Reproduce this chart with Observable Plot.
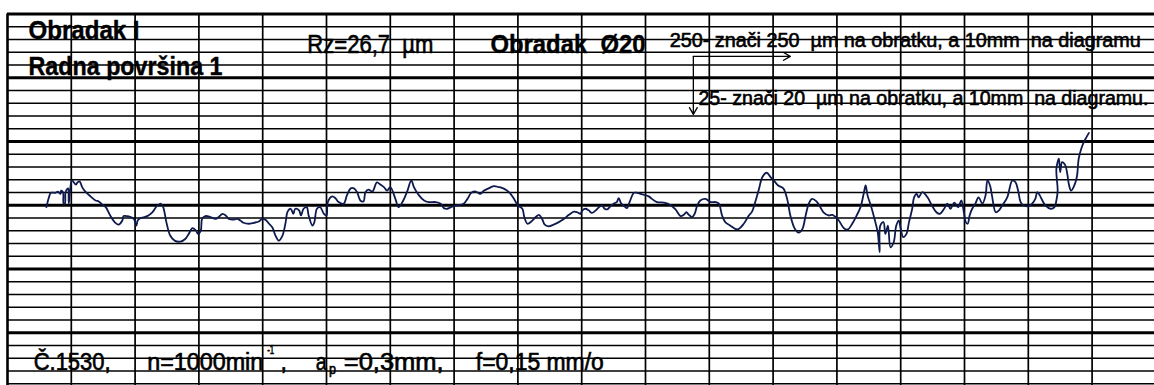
<!DOCTYPE html>
<html><head><meta charset="utf-8">
<script src="https://cdn.jsdelivr.net/npm/d3@7"></script>
<script src="https://cdn.jsdelivr.net/npm/@observablehq/plot@0.6"></script>
<style>html,body{margin:0;padding:0;background:#fff}svg{display:block}</style>
</head><body><div id="chart"></div>
<script>
// Profile trace: x = position along the diagram (mm), y = profile height (µm, 10 mm = 20 µm)
const profileX = [
 6.1,6.5,6.8,7.5,7.9,8.3,8.4,8.7,8.8,9.0,
 9.1,9.4,9.5,9.6,9.8,10.1,10.4,10.7,11.0,11.3,
 11.7,12.2,13.0,13.8,14.3,14.7,15.4,16.1,16.9,17.4,
 18.0,18.2,19.0,19.8,20.2,20.4,20.8,21.9,22.7,23.4,
 24.0,24.4,24.9,25.5,26.2,27.1,27.9,28.4,29.0,29.5,
 29.9,30.3,30.5,31.0,31.8,32.6,33.1,33.7,34.2,34.7,
 35.5,36.0,36.5,37.0,37.8,38.6,39.4,39.9,40.4,41.0,
 41.5,42.0,42.5,43.1,43.6,43.9,44.4,44.8,45.1,45.7,
 46.0,46.4,46.9,47.2,47.8,48.1,48.5,49.0,49.6,50.0,
 50.2,50.9,51.4,51.9,52.7,53.2,53.8,54.3,54.8,55.3,
 55.8,56.1,56.6,57.2,57.9,58.5,59.0,59.5,60.0,60.8,
 61.3,61.9,62.6,63.3,63.7,64.5,65.3,66.0,67.1,67.9,
 68.4,68.9,69.5,70.2,71.5,72.1,72.7,73.4,74.1,74.7,
 75.4,76.2,77.0,77.8,78.6,79.4,80.0,80.7,81.0,81.5,
 82.1,82.8,83.3,83.8,84.2,84.8,85.6,86.4,87.2,88.0,
 88.8,89.3,89.8,90.1,90.6,91.1,91.6,92.2,92.7,93.2,
 93.6,94.0,94.5,95.0,95.5,95.8,96.2,96.7,97.1,97.5,
 98.2,98.7,99.2,99.7,100.5,101.0,101.8,102.9,103.9,104.7,
 105.5,106.0,106.4,106.8,107.3,107.7,108.1,108.6,109.4,110.2,
 111.0,111.5,112.0,112.5,113.3,114.4,115.4,116.2,116.7,117.2,
 117.8,118.3,119.0,119.6,120.1,120.8,121.6,122.2,122.7,123.4,
 124.0,124.6,125.1,125.6,126.1,126.8,127.4,127.9,128.7,129.3,
 129.8,130.3,131.1,131.7,132.4,133.1,133.7,134.2,134.5,134.8,
 135.4,135.9,136.4,136.7,136.8,137.3,137.6,138.0,138.4,138.9,
 139.3,139.7,140.0,140.4,140.9,141.3,141.8,142.1,142.5,142.8,
 143.4,144.2,144.9,145.6,146.1,146.8,147.3,147.8,148.4,149.0,
 149.5,149.9,150.2,150.5,150.8,151.2,151.7,152.2,152.8,153.3,
 153.6,154.0,154.3,154.9,155.4,155.9,156.7,157.5,158.0,158.4,
 158.8,159.3,160.1,160.6,161.1,161.4,161.8,162.2,162.7,163.5,
 164.1,164.4,164.6,164.4,164.8,165.0,165.3,165.8,166.1,166.4,
 166.7,167.1,167.6,167.9,168.3,168.7,169.1,169.5
];
const profileY = [
 -0.6,2.5,3.9,3.9,4.3,3.6,4.6,4.1,0.5,0.5,
 4.1,5.2,5.3,0.5,4.6,7.8,7.2,6.5,7.2,7.5,
 5.7,4.3,2.8,1.5,1.2,0.5,-0.6,-3.2,-5.5,-6.1,
 -4.8,-3.4,-3.5,-4.3,-6.4,-4.8,-4.1,-3.4,-2.2,-0.3,
 0.5,-0.6,-5.3,-9.5,-11.1,-11.4,-10.5,-9.0,-7.2,-7.9,
 -9.0,-7.9,-4.3,-3.4,-3.7,-4.3,-3.7,-2.7,-3.2,-4.3,
 -4.5,-4.3,-4.8,-5.5,-5.8,-5.5,-5.1,-4.3,-4.5,-5.8,
 -6.9,-9.5,-11.1,-9.5,-5.3,-2.0,-1.1,-2.7,-1.1,-1.6,
 -3.2,-1.1,-0.6,-3.2,-6.4,-5.3,-1.1,-0.6,-2.7,-3.2,
 1.0,2.8,2.2,1.0,0.5,3.1,5.3,5.3,4.1,1.5,
 1.2,4.1,4.9,4.3,7.2,6.4,5.7,4.6,5.7,2.0,
 -0.6,1.0,4.1,7.8,5.7,3.1,1.5,1.0,1.0,0.5,
 -0.9,-1.1,-0.6,-0.1,0.5,2.0,3.9,4.3,3.6,4.6,
 5.3,6.0,5.7,5.2,4.1,2.0,-0.1,-1.1,-3.7,-5.8,
 -5.1,-3.7,-3.0,-4.3,-6.1,-6.6,-6.1,-5.3,-4.3,-3.0,
 -2.0,-2.2,-2.7,-1.6,-1.1,-1.6,-2.4,-1.6,-0.6,-0.1,
 -1.1,-1.3,-0.3,0.5,1.0,2.2,0.5,-0.3,-0.9,1.0,
 3.9,3.9,3.6,3.3,2.8,2.0,1.0,0.8,0.1,-1.3,
 -3.4,-3.0,-2.2,-3.0,-3.7,-2.7,-0.1,1.5,2.0,1.0,
 1.0,0.5,-3.2,-5.3,-6.4,-7.6,-5.8,-3.2,-2.0,1.0,
 5.2,8.8,10.2,8.8,7.8,6.2,5.3,2.0,-3.2,-7.4,
 -8.6,-7.4,-3.2,0.5,2.0,1.2,-0.6,-2.2,-3.2,-3.0,
 -3.7,-4.8,-7.2,-7.6,-5.8,-3.2,-0.6,3.6,6.2,3.1,
 -0.6,-4.3,-8.5,-14.7,-6.4,-5.3,-9.0,-6.4,-13.2,-11.6,
 -6.4,-4.8,-7.4,-10.0,-9.0,-5.3,-1.1,2.5,3.6,2.5,
 4.1,2.5,-0.1,-2.2,-2.7,-1.1,0.5,-1.1,0.8,-0.6,
 1.5,-2.2,-5.3,-5.8,-3.2,-1.1,0.5,2.5,0.5,3.1,
 7.8,6.2,3.1,-2.2,-1.6,-0.1,2.5,7.8,7.2,4.6,
 1.0,-0.1,-0.3,0.5,2.0,4.1,3.1,1.5,-0.1,-1.1,
 -0.6,1.5,4.6,11.4,14.6,10.4,13.5,12.5,9.9,6.2,
 4.6,5.7,8.8,14.6,17.7,19.8,21.3,22.7
];

// Chart-paper grid: vertical lines every 10 mm, horizontal every 4 µm (2 mm), heavy every 20 µm
const gridX = d3.range(0, 180, 10);
const gridYMinor = d3.range(-56, 61, 4);
const gridYMajor = [60, 40, 20, 0, -20, -40];

const profile = profileX.map((x, i) => ({x, y: profileY[i]}));

// Annotation texts (as written on the chart)
const boldNotes = [
  {label: "Obradak I", x: 3.3, y: 52.3, w: 111},
  {label: "Radna površina 1", x: 3.3, y: 41.0, w: 194},
  {label: "Obradak\u00a0\u00a0Ø20", x: 75.7, y: 47.9, w: 155}
];
const plainNotes = [
  {label: "Rz=26,7\u00a0\u00a0µm", x: 47.0, y: 47.9, w: 126, size: 25},
  {label: "250- znači 250\u00a0\u00a0µm na obratku, a 10mm\u00a0\u00a0na diagramu", x: 103.8, y: 49.5, w: 471, size: 19.5},
  {label: "25- znači 20\u00a0\u00a0µm na obratku, a 10mm\u00a0\u00a0na diagramu.", x: 108.3, y: 31.6, w: 450, size: 19.5},
  {label: "Č.1530,", x: 4.1, y: -51.8, w: 77, size: 23},
  {label: "n=1000min", x: 21.9, y: -51.8, w: 116, size: 23},
  {label: "-1", x: 40.7, y: -46.8, w: 7, size: 13},
  {label: ",", x: 42.8, y: -51.8, w: null, size: 23},
  {label: "a", x: 48.3, y: -51.8, w: 11, size: 23},
  {label: "p", x: 50.4, y: -52.8, w: 7, size: 14},
  {label: "=0,3mm,", x: 52.7, y: -51.8, w: 100, size: 23},
  {label: "f=0,15 mm/o", x: 73.4, y: -51.8, w: 128, size: 23}
];
const scaleArrows = [
  {x1: 107.5, y1: 46.7, x2: 122.7, y2: 46.7},
  {x1: 107.5, y1: 46.7, x2: 107.5, y2: 28.5}
];

const FONT = "'Liberation Sans', Arial, sans-serif";

const chart = Plot.plot({
  width: 1154,
  height: 385,
  margin: 0,
  style: {background: "#fff", fontFamily: FONT},
  x: {domain: [-1.097, 179.78], axis: null},
  y: {domain: [-56.55, 64.24], axis: null},
  marks: [
    Plot.ruleY(gridYMinor, {y: d => d, x1: 0, x2: 185, stroke: "#000", strokeWidth: 1.4}),
    Plot.ruleY(gridYMajor, {y: d => d, x1: 0, x2: 185, stroke: "#000", strokeWidth: 2.8}),
    Plot.ruleX(gridX, {x: d => d, y1: 60, y2: -60, stroke: "#000", strokeWidth: d => d === 0 ? 2.6 : 1.7}),
    Plot.line(profile, {x: "x", y: "y", stroke: "#0e1a4d", strokeWidth: 1.8, curve: "catmull-rom"}),
    Plot.arrow(scaleArrows, {x1: "x1", y1: "y1", x2: "x2", y2: "y2", stroke: "#000", strokeWidth: 1.3, headLength: 9}),
    Plot.text(boldNotes, {x: "x", y: "y", text: "label", textAnchor: "start", lineAnchor: "bottom",
      fontSize: 26, fontWeight: "bold", fill: "#000", stroke: "#000", strokeWidth: 0.4, className: "notes-bold"}),
    Plot.text(plainNotes, {x: "x", y: "y", text: "label", textAnchor: "start", lineAnchor: "bottom",
      fontSize: "size", fill: "#000", stroke: "#000", strokeWidth: 0.6, className: "notes-plain"})
  ]
});

document.getElementById("chart").appendChild(chart);

// squeeze texts horizontally like the scanned condensed lettering
function fit(cls, notes) {
  const texts = chart.querySelectorAll("g." + cls + " text");
  texts.forEach((t, i) => {
    const n = notes[i];
    if (n && n.w) {
      t.setAttribute("textLength", n.w);
      t.setAttribute("lengthAdjust", "spacingAndGlyphs");
    }
  });
}
fit("notes-bold", boldNotes);
fit("notes-plain", plainNotes);
</script>
</body></html>
